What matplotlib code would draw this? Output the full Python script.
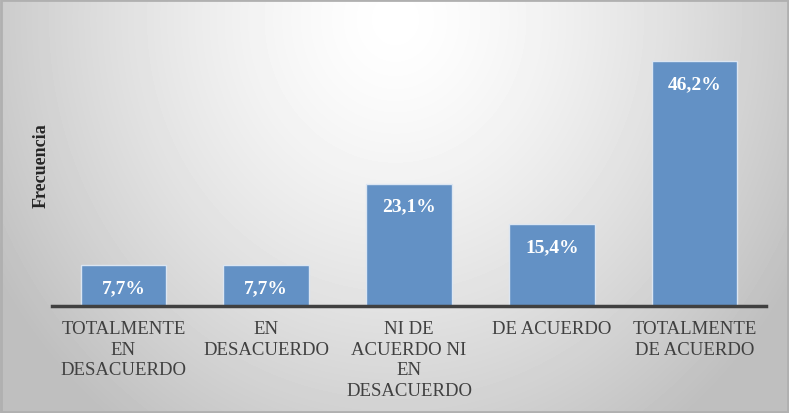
import numpy as np
import matplotlib.pyplot as plt

categorias = ["TOTALMENTE\nEN\nDESACUERDO", "EN\nDESACUERDO", "NI DE\nACUERDO NI\nEN\nDESACUERDO",
              "DE ACUERDO", "TOTALMENTE\nDE ACUERDO"]
porcentajes = [7.7, 7.7, 23.1, 15.4, 46.2]
etiquetas = ["7,7%", "7,7%", "23,1%", "15,4%", "46,2%"]

plt.rcParams['font.family'] = ['Liberation Serif', 'DejaVu Serif']

fig = plt.figure(figsize=(7.89, 4.14), dpi=100)

# fondo con degradado radial
bg = fig.add_axes([0, 0, 1, 1])
yy, xx = np.mgrid[0:414, 0:789]
d = np.sqrt(((xx - 395) / 420.0) ** 2 + ((yy - 20) / 460.0) ** 2)
grad = 1.0 - 0.22 * np.clip(d, 0, 1.1) ** 1.4
bg.imshow(grad, cmap='gray', vmin=0, vmax=1, aspect='auto', extent=[0, 789, 414, 0])
bg.add_patch(plt.Rectangle((1, 1), 787, 412, fill=False, edgecolor='#b0b0b0', lw=2))
bg.set_xlim(0, 789)
bg.set_ylim(414, 0)
bg.axis('off')

ax = fig.add_axes([52 / 789, 1 - 307 / 414, 714 / 789, 265 / 414])
ax.patch.set_alpha(0)
x = np.arange(len(categorias))
barras = ax.bar(x, porcentajes, width=0.6, color='#6391c5', edgecolor='#dce6f2', linewidth=1)
for b, t in zip(barras, etiquetas):
    ax.annotate(t, (b.get_x() + b.get_width() / 2, b.get_height()), xytext=(0, -16),
                textcoords='offset points', ha='center', va='center',
                color='white', fontweight='bold', fontsize=14)

ax.set_xlim(-0.5, 4.5)
ax.set_ylim(0, 50)
ax.set_xticks(x)
ax.set_xticklabels(categorias, fontsize=13.5, color='#404040', linespacing=1.28)
ax.tick_params(axis='x', length=0, pad=10)
ax.set_yticks([])
for s in ['top', 'right', 'left']:
    ax.spines[s].set_visible(False)
ax.spines['bottom'].set_color('#404040')
ax.spines['bottom'].set_linewidth(2.5)
ax.set_ylabel("Frecuencia", fontsize=13, fontweight='bold', color='#262626')
ax.yaxis.set_label_coords(-2 / 714, (307 - 166) / 265)

fig.savefig("out.png", dpi=100)
